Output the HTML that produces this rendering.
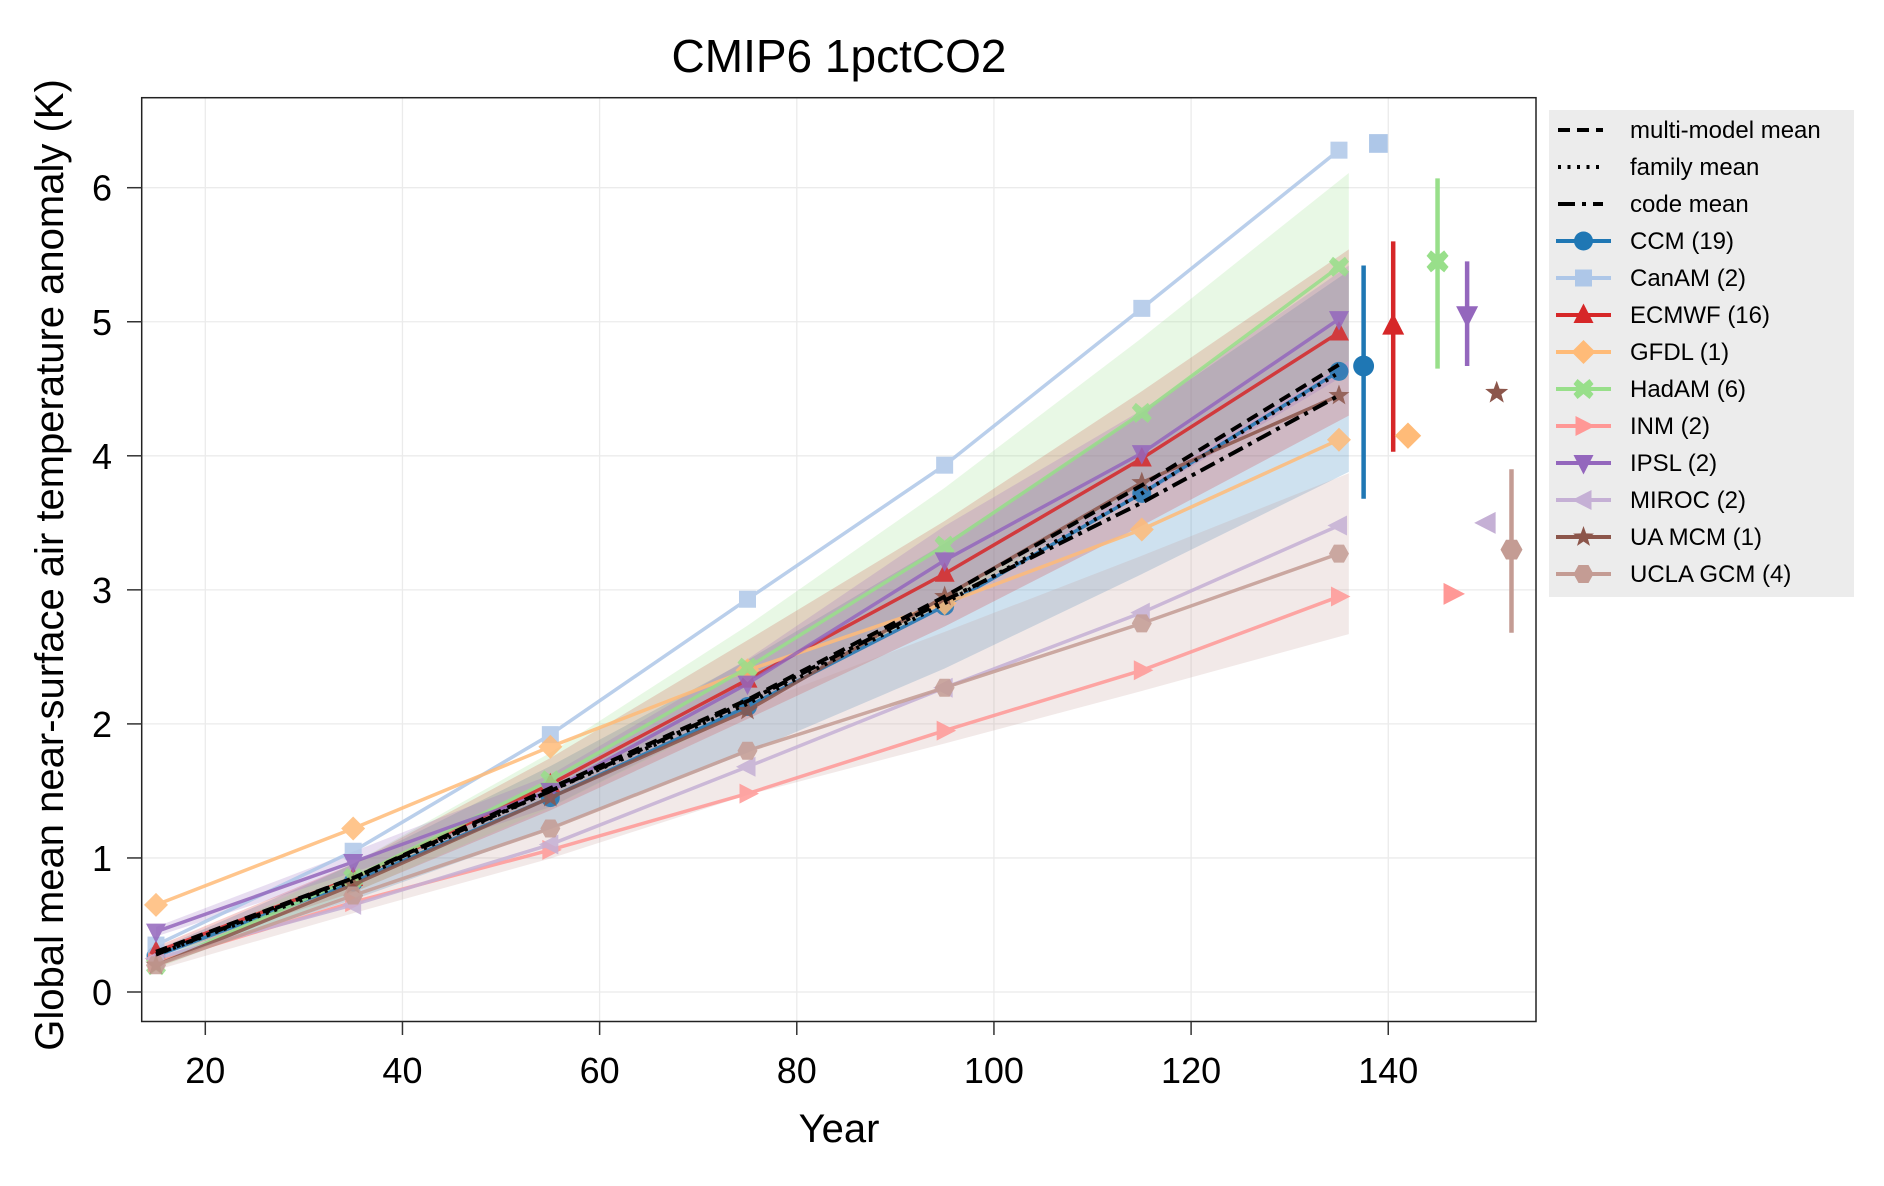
<!DOCTYPE html>
<html><head><meta charset="utf-8"><style>
html,body{margin:0;padding:0;background:#fff;}
svg text{font-family:"Liberation Sans",sans-serif;}
</style></head><body>
<svg id="chart" xmlns="http://www.w3.org/2000/svg" width="1884" height="1181" viewBox="0 0 1884 1181">
<text x="839" y="72" font-size="46" text-anchor="middle" fill="#000">CMIP6 1pctCO2</text>
<g id="grid"></g>
<g id="bands"></g>
<g id="series"></g>
<g id="ends"></g>
<rect x="141.7" y="97.7" width="1394.3" height="923.8" fill="none" stroke="#222" stroke-width="1.5"/>
<g id="axes"></g>
<text x="839" y="1142" font-size="40" text-anchor="middle">Year</text>
<text transform="translate(63,565) rotate(-90)" font-size="40" text-anchor="middle">Global mean near-surface air temperature anomaly (K)</text>
<g id="legend"></g>
</svg>
<script>
const years = [15,35,55,75,95,115,135];
const names = ["CCM (19)","CanAM (2)","ECMWF (16)","GFDL (1)","HadAM (6)","INM (2)","IPSL (2)","MIROC (2)","UA MCM (1)","UCLA GCM (4)"];
const colors = ["#1f77b4","#aec7e8","#d62728","#ffbb78","#98df8a","#ff9896","#9467bd","#c5b0d5","#8c564b","#c49c94"];
const markers = ["circle","square","tri-up","diamond","x","tri-right","tri-down","tri-left","star","hex"];
const ccm = [0.27,0.82,1.45,2.13,2.88,3.72,4.63];
const canam = [0.35,1.05,1.92,2.93,3.93,5.10,6.28];
const ecmwf = [0.30,0.85,1.55,2.33,3.12,3.98,4.92];
const gfdl = [0.65,1.22,1.83,2.40,2.90,3.45,4.12];
const hadam = [0.20,0.85,1.58,2.42,3.33,4.32,5.41];
const inm = [0.22,0.67,1.06,1.48,1.95,2.40,2.95];
const ipsl = [0.45,0.97,1.50,2.30,3.22,4.02,5.02];
const miroc = [0.25,0.65,1.10,1.68,2.27,2.83,3.48];
const uamcm = [0.20,0.80,1.45,2.10,2.95,3.80,4.45];
const ucla = [0.20,0.72,1.22,1.80,2.27,2.75,3.27];
const seriesValues = [ccm,canam,ecmwf,gfdl,hadam,inm,ipsl,miroc,uamcm,ucla];
const spreadEnd = [0.75,0,0.62,0,0.70,0,0.40,0,0,0.60];
const endYears = [137.5,139,140.5,142,145,146.5,148,150,151,152.5];
const endValues = [4.67,6.33,4.97,4.15,5.45,2.97,5.05,3.50,4.47,3.30];
const errLow = [3.68,6.33,4.03,4.15,4.65,2.97,4.67,3.50,4.47,2.68];
const errHigh = [5.42,6.33,5.60,4.15,6.07,2.97,5.45,3.50,4.47,3.90];
const multiModelMean = [0.30,0.85,1.52,2.18,2.95,3.78,4.68];
const familyMean = [0.28,0.83,1.50,2.15,2.90,3.72,4.62];
const codeMean = [0.28,0.85,1.50,2.17,2.92,3.65,4.45];
const xTicks = [20,40,60,80,100,120,140];
const yTicks = [0,1,2,3,4,5,6];

const NS="http://www.w3.org/2000/svg";
const X = v => 205.3 + (v-20)*9.858;
const Y = v => 992 - v*134.05;
function mk(tag, attrs, parent){const e=document.createElementNS(NS,tag);for(const k in attrs)e.setAttribute(k,attrs[k]);parent.appendChild(e);return e;}
const grid=document.getElementById('grid'), axes=document.getElementById('axes');
xTicks.forEach(t=>{
  const g=mk('line',{x1:X(t),x2:X(t),y1:97.7,y2:1021.5,stroke:'#ebebeb','stroke-width':1.3},grid);
  
  
  const tk=mk('line',{x1:X(t),x2:X(t),y1:1021.5,y2:1035,stroke:'#333','stroke-width':1.5},axes);
  
  
  const tx=mk('text',{x:X(t),y:1083,'font-size':36,'text-anchor':'middle'},axes);tx.textContent=t;
  
  
});
yTicks.forEach(t=>{
  const g=mk('line',{x1:141.7,x2:1536,y1:Y(t),y2:Y(t),stroke:'#ebebeb','stroke-width':1.3},grid);
  
  
  const tk=mk('line',{x1:127,x2:141.7,y1:Y(t),y2:Y(t),stroke:'#333','stroke-width':1.5},axes);
  
  
  const tx=mk('text',{x:112,y:Y(t)+13,'font-size':36,'text-anchor':'end'},axes);tx.textContent=t;
  
  
});
function marker(type,cx,cy,s,color,parent){
  let e;
  const p=pts=>pts.map(q=>(cx+q[0]*s)+','+(cy+q[1]*s)).join(' ');
  if(type==='circle') e=mk('circle',{cx:cx,cy:cy,r:s*0.95,fill:color},parent);
  else if(type==='square') e=mk('rect',{x:cx-s*0.85,y:cy-s*0.85,width:s*1.7,height:s*1.7,fill:color},parent);
  else if(type==='tri-up') e=mk('polygon',{points:p([[0,-1.15],[1,0.8],[-1,0.8]]),fill:color},parent);
  else if(type==='tri-down') e=mk('polygon',{points:p([[0,1.15],[1,-0.8],[-1,-0.8]]),fill:color},parent);
  else if(type==='tri-right') e=mk('polygon',{points:p([[1.15,0],[-0.8,1],[-0.8,-1]]),fill:color},parent);
  else if(type==='tri-left') e=mk('polygon',{points:p([[-1.15,0],[0.8,1],[0.8,-1]]),fill:color},parent);
  else if(type==='diamond') e=mk('polygon',{points:p([[0,-1.2],[1.2,0],[0,1.2],[-1.2,0]]),fill:color},parent);
  else if(type==='hex') e=mk('polygon',{points:p([[-1,0],[-0.5,-0.9],[0.5,-0.9],[1,0],[0.5,0.9],[-0.5,0.9]]),fill:color},parent);
  else if(type==='x') e=mk('polygon',{points:p([[-0.6,-1],[0,-0.5],[0.6,-1],[1,-0.5],[0.55,0],[1,0.5],[0.6,1],[0,0.5],[-0.6,1],[-1,0.5],[-0.55,0],[-1,-0.5]]),fill:color},parent);
  else { const a=[];for(let i=0;i<10;i++){const r=i%2?0.45:1.1;const an=-Math.PI/2+i*Math.PI/5;a.push([r*Math.cos(an),r*Math.sin(an)]);} e=mk('polygon',{points:p(a),fill:color},parent);}
  return e;
}
const bands=document.getElementById('bands'), series=document.getElementById('series'), ends=document.getElementById('ends');
seriesValues.forEach((vals,i)=>{
  if(spreadEnd[i]>0){
    const last=vals[vals.length-1];
    const up=vals.map((v,j)=>[X(years[j]),Y(v+spreadEnd[i]*v/last)]);
    const lo=vals.map((v,j)=>[X(years[j]),Y(v-spreadEnd[i]*v/last)]);
    up[up.length-1][0]=X(136);lo[lo.length-1][0]=X(136);
    const pts=up.concat(lo.reverse()).map(q=>q.join(',')).join(' ');
    const b=mk('polygon',{points:pts,fill:colors[i],opacity:0.22},bands);
    
    
  }
  const g=mk('g',{opacity:0.85},series);
  
  
  mk('polyline',{points:vals.map((v,j)=>X(years[j])+','+Y(v)).join(' '),fill:'none',stroke:colors[i],'stroke-width':3.5},g);
  vals.forEach((v,j)=>{const m=marker(markers[i],X(years[j]),Y(v),10,colors[i],g);
    
    });
  const eg=mk('g',{},ends);
  
  
  if(errHigh[i]>errLow[i]) mk('line',{x1:X(endYears[i]),x2:X(endYears[i]),y1:Y(errLow[i]),y2:Y(errHigh[i]),stroke:colors[i],'stroke-width':4.5},eg);
  marker(markers[i],X(endYears[i]),Y(endValues[i]),11,colors[i],eg);
});
[[multiModelMean,'12,7','multi-model-mean-line'],[familyMean,'3,6','family-mean-line'],[codeMean,'16,6,4,6','code-mean-line']].forEach(d=>{
  const l=mk('polyline',{points:d[0].map((v,j)=>X(years[j])+','+Y(v)).join(' '),fill:'none',stroke:'#000','stroke-width':4,'stroke-dasharray':d[1]},series);
  
  
});
const leg=document.getElementById('legend');
mk('rect',{x:1549,y:110,width:305,height:487,fill:'#ececec'},leg);
const legLabels=['multi-model mean','family mean','code mean'].concat(names);
legLabels.forEach((lab,k)=>{
  const cy=130+k*37;
  const g=mk('g',{},leg);
  
  
  if(k<3){
    const da=['12,7','3,6.5','17,7,4,7'][k];
    mk('line',{x1:1558,x2:1603,y1:cy,y2:cy,stroke:'#000','stroke-width':4,'stroke-dasharray':da},g);
  } else {
    const i=k-3;
    mk('line',{x1:1556,x2:1611,y1:cy,y2:cy,stroke:colors[i],'stroke-width':4},g);
    marker(markers[i],1583.5,cy,10,colors[i],g);
  }
  const t=mk('text',{x:1630,y:cy+8,'font-size':24},g);t.textContent=lab;
});
</script>
</body></html>
